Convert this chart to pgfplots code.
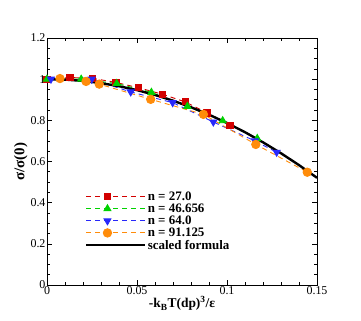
\documentclass[border=0pt]{standalone}
\usepackage{fontspec}
\setmainfont{Liberation Serif}
\usepackage{pgfplots}
\pgfplotsset{compat=1.18}
\definecolor{cred}{RGB}{210,0,0}
\definecolor{cgreen}{RGB}{0,210,0}
\definecolor{cblue}{RGB}{40,40,250}
\definecolor{corange}{RGB}{255,140,10}
\begin{document}
\begin{tikzpicture}[x=1bp,y=1bp]
\path[use as bounding box] (0,0) rectangle (361,321);
\begin{axis}[
  at={(47bp,36bp)}, anchor=south west,
  scale only axis, width=270bp, height=247bp,
  /pgf/number format/assume math mode=true,
  xmin=0, xmax=0.15, ymin=0, ymax=1.2,
  xtick={0,0.05,0.1,0.15}, xticklabels={0,0.05,0.1,0.15},
  ytick={0,0.2,0.4,0.6,0.8,1,1.2}, yticklabels={0,0.2,0.4,0.6,0.8,1,1.2},
  minor x tick num=4, minor y tick num=3,
  tick align=inside, ticks=both,
  xtick pos=both, ytick pos=both,
  major tick length=5bp, minor tick length=3bp,
  every tick/.style={black, line width=0.6pt},
  axis line style={line width=0.9pt},
  tick label style={font=\fontsize{12}{13}\selectfont},
  xticklabel style={yshift=2pt},
  yticklabel style={xshift=2pt},
  xlabel={\textbf{-k\textsubscript{B}T(dp)\textsuperscript{3}/ε}},
  ylabel={\textbf{σ/σ(0)}},
  xlabel style={font=\fontsize{13.5}{14}\selectfont, yshift=5pt},
  ylabel style={font=\fontsize{15}{16}\selectfont, yshift=-4pt},
  legend style={draw=none, fill=none, at={(0.13,0.395)}, anchor=north west,
    font=\fontsize{13}{13}\selectfont\bfseries, row sep=-2pt,
    legend cell align=left},
  legend image code/.code={\draw[mark repeat=2,mark phase=2,#1] plot coordinates {(0cm,0cm) (0.74cm,0cm) (1.48cm,0cm)}; \path (0,0) -- (2.05cm,0);},
]
\addplot[cred, line width=0.9pt, dash pattern=on 5bp off 4bp, mark=square*, mark size=3.1bp, mark options={solid}]
  coordinates {(0,1.0) (0.0128,1.008) (0.0254,1.004) (0.0383,0.984) (0.0510,0.958) (0.0640,0.927) (0.0767,0.890) (0.0889,0.836) (0.1016,0.776)};
\addlegendentry{n = 27.0}
\addplot[cgreen, line width=0.9pt, dash pattern=on 5bp off 4bp, mark=triangle*, mark size=4bp, mark options={solid}]
  coordinates {(0,1.0) (0.0190,1.0) (0.0387,0.979) (0.0580,0.936) (0.0780,0.868) (0.0976,0.798) (0.1168,0.712)};
\addlegendentry{n = 46.656}
\addplot[cblue, line width=0.9pt, dash pattern=on 5bp off 4bp, mark=triangle*, mark size=4bp, mark options={solid, rotate=180}]
  coordinates {(0.0022,1.0) (0.0248,1.0) (0.0465,0.938) (0.0698,0.886) (0.0924,0.792) (0.1155,0.700) (0.1276,0.645)};
\addlegendentry{n = 64.0}
\addplot[corange, line width=0.9pt, dash pattern=on 5bp off 4bp, mark=*, mark size=4.2bp, mark options={solid}]
  coordinates {(0.0072,1.003) (0.0217,0.989) (0.0290,0.976) (0.0576,0.902) (0.0869,0.829) (0.1160,0.683) (0.1446,0.548)};
\addlegendentry{n = 91.125}
\addplot[black, line width=2.4pt, no marks]
  coordinates {(0,1.0) (0.01,0.9979) (0.02,0.9915) (0.03,0.9808) (0.04,0.9659) (0.05,0.9468) (0.06,0.9233) (0.07,0.8956) (0.08,0.8637) (0.09,0.8275) (0.10,0.7870) (0.11,0.7423) (0.12,0.6933) (0.13,0.6400) (0.14,0.5825) (0.15,0.5208)};
\addlegendentry{scaled formula}
\end{axis}
\end{tikzpicture}
\end{document}
